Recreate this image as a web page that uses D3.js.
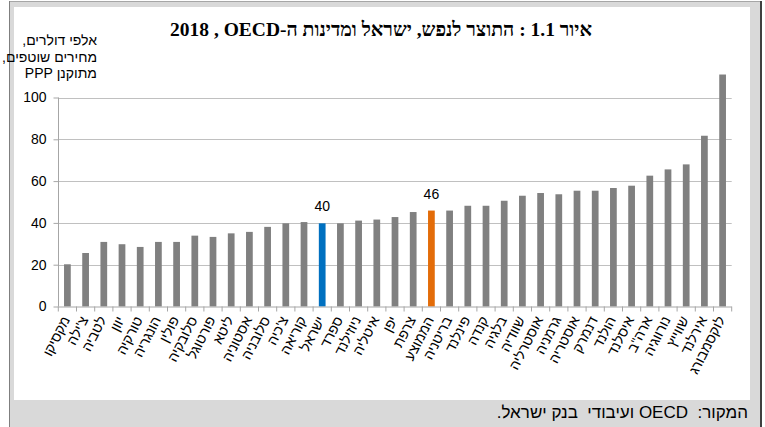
<!DOCTYPE html>
<html><head><meta charset="utf-8">
<script src="https://cdn.jsdelivr.net/npm/d3@7"></script>
<style>html,body{margin:0;padding:0;background:#fff;}svg{display:block;}</style>
</head><body>
<script>
const categories = ["מקסיקו","צ'ילה","לטביה","יוון","טורקיה","הונגריה","פולין","סלובקיה","פורטוגל","ליטא","אסטוניה","סלובניה","צ'כיה","קוריאה","ישראל","ספרד","ניוזילנד","איטליה","יפן","צרפת","הממוצע","בריטניה","פינלנד","קנדה","בלגיה","שוודיה","אוסטרליה","גרמניה","אוסטריה","דנמרק","הולנד","איסלנד","ארה\"ב","נורווגיה","שווייץ","אירלנד","לוקסמבורג"];
const values = [20.2,25.6,30.9,29.8,28.5,30.9,30.9,33.9,33.3,35.0,35.7,38.1,39.8,40.4,39.8,39.8,41.1,41.6,42.8,45.2,45.9,45.9,48.2,48.2,50.6,53.0,54.3,53.7,55.4,55.4,56.7,57.8,62.6,65.6,68.0,81.7,111.0];
const highlighted = {"ישראל":"#0070c0","הממוצע":"#e36c09"};
const valueLabels = {"ישראל":"40","הממוצע":"46"};
const yTicks = [0,20,40,60,80,100];
const titleText = "איור 1.1 : התוצר לנפש, ישראל ומדינות ה-OECD\u200F , 2018";
const yLabelLines = ["אלפי דולרים,","מחירים שוטפים,","מתוקנן PPP"];
const sourceText = "המקור:  OECD ועיבודי  בנק ישראל.";

const W = 765, H = 427;
const svg = d3.select("body").append("svg").attr("width", W).attr("height", H);

// frame
svg.append("rect").attr("x",9).attr("y",1).attr("width",753).attr("height",426).attr("fill","#d9d9d9");
svg.append("line").attr("x1",9).attr("x2",762).attr("y1",1.5).attr("y2",1.5).attr("stroke","#a6a6a6");
svg.append("line").attr("x1",9.5).attr("x2",9.5).attr("y1",1).attr("y2",427).attr("stroke","#7f7f7f");
svg.append("line").attr("x1",761).attr("x2",761).attr("y1",1).attr("y2",427).attr("stroke","#404040").attr("stroke-width",2);
svg.append("rect").attr("x",14).attr("y",7).attr("width",736).attr("height",393).attr("fill","#fff");

const x = d3.scaleBand().domain(categories).range([58.3, 731.7]).paddingInner(0.63).paddingOuter(0.315);
const y = d3.scaleLinear().domain([0,100]).range([306.5, 97.5]);

// gridlines
svg.append("g").selectAll("line").data(yTicks.filter(d=>d>0)).join("line")
  .attr("x1",58.3).attr("x2",731.7).attr("y1",d=>Math.round(y(d))+0.5).attr("y2",d=>Math.round(y(d))+0.5)
  .attr("stroke","#c0c0c0").attr("stroke-width",1.2);

// bars
svg.append("g").selectAll("rect").data(categories).join("rect")
  .attr("x",d=>x(d)).attr("width",x.bandwidth())
  .attr("y",(d,i)=>y(values[i])).attr("height",(d,i)=>y(0)-y(values[i]))
  .attr("fill",d=>highlighted[d]||"#808080");

// value labels
svg.append("g").selectAll("text").data(categories.filter(d=>valueLabels[d])).join("text")
  .attr("x",d=>x(d)+x.bandwidth()/2).attr("y",d=>y(values[categories.indexOf(d)])-12)
  .attr("text-anchor","middle").attr("font-family","Liberation Sans, Arial, sans-serif")
  .attr("font-size",14).attr("fill","#000").text(d=>valueLabels[d]);

// y axis
const yAxis = svg.append("g").attr("transform","translate(58.5,0)")
  .call(d3.axisLeft(y).tickValues(yTicks).tickSize(5).tickPadding(7).tickFormat(d3.format("d")));
yAxis.select(".domain").attr("stroke","#a6a6a6").attr("d","M0,"+y(0)+"V"+y(100));
yAxis.selectAll(".tick line").attr("stroke","#a6a6a6");
yAxis.selectAll(".tick text").attr("font-family","Liberation Sans, Arial, sans-serif").attr("font-size",14).attr("fill","#000");

// x axis
const xAxis = svg.append("g").attr("transform","translate(0,"+(y(0))+")")
  .call(d3.axisBottom(x).tickSize(0).tickFormat(""));
xAxis.select(".domain").attr("stroke","#a6a6a6").attr("d","M58.3,0.5H731.7");
const boundaries = d3.range(categories.length+1).map(i => x.range()[0] + i*x.step());
xAxis.append("g").selectAll("line").data(boundaries).join("line")
  .attr("x1",d=>d).attr("x2",d=>d).attr("y1",0).attr("y2",5).attr("stroke","#a6a6a6");
xAxis.append("g").selectAll("text").data(categories).join("text")
  .attr("transform",d=>"translate("+(x(d)+x.bandwidth()/2+3)+",13) rotate(-63)")
  .attr("text-anchor","end").attr("font-family","Liberation Sans, Arial, sans-serif")
  .attr("font-size",14).attr("fill","#000").text(d=>d);

// title
svg.append("text").attr("x",381).attr("y",36).attr("text-anchor","middle")
  .attr("direction","rtl").attr("font-family","Liberation Serif, Times New Roman, serif")
  .attr("font-size",19.5).attr("font-weight","bold").attr("fill","#000").text(titleText);

// y label
svg.append("g").selectAll("text").data(yLabelLines).join("text")
  .attr("x",97).attr("y",(d,i)=>45+i*16.5).attr("direction","rtl").attr("text-anchor","start")
  .attr("font-family","Liberation Sans, Arial, sans-serif").attr("font-size",14).attr("fill","#000").text(d=>d);

// source
svg.append("text").attr("x",748).attr("y",418).attr("direction","rtl").attr("text-anchor","start")
  .attr("font-family","Liberation Sans, Arial, sans-serif").attr("font-size",17).attr("fill","#000")
  .style("white-space","pre").text(sourceText);
</script>
</body></html>
